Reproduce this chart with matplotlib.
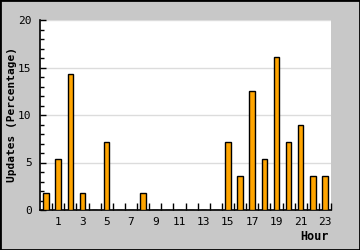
import numpy as np
import matplotlib
matplotlib.use('Agg')
import matplotlib.pyplot as plt
from matplotlib.patches import Rectangle

# Data: share of updates per hour of day
hours = list(range(24))
updates = [1.79, 5.36, 14.29, 1.79, 0, 7.14, 0, 0, 1.79, 0, 0, 0,
           0, 0, 0, 7.14, 3.57, 12.5, 5.36, 16.07, 7.14, 8.93, 3.57, 3.57]
xlabels = [str(h) for h in hours if h % 2 == 1]

BG = '#c8c8c8'
BAR = '#ffa500'

plt.rcParams['font.family'] = ['DejaVu Sans Mono']

fig = plt.figure(figsize=(3.6, 2.5), dpi=100, facecolor=BG)
fig.patches.append(Rectangle((0, 0), 1, 1, transform=fig.transFigure,
                             fill=False, edgecolor='black', linewidth=2))
ax = fig.add_axes([40/360, 40/250, 291/360, 190/250])
ax.set_facecolor('white')

ax.bar(hours, updates, width=0.45, color=BAR, edgecolor='black', linewidth=1, zorder=3)

ax.set_xlim(-0.5, 23.5)
ax.set_ylim(0, 20)

# y ticks
ax.set_yticks([0, 5, 10, 15, 20])
ax.set_yticks(np.arange(0, 21, 1), minor=True)
ax.yaxis.grid(True, which='major', color='#dcdcdc', linewidth=1, zorder=0)
ax.tick_params(axis='y', which='major', direction='in', length=4, width=1,
               labelsize=8, pad=6)
ax.tick_params(axis='y', which='minor', direction='in', length=3, width=1)

# x ticks: labels at odd hours, tick marks at category boundaries
ax.set_xticks([h for h in hours if h % 2 == 1])
ax.set_xticklabels(xlabels)
ax.set_xticks(np.arange(0.5, 24, 1), minor=True)
ax.tick_params(axis='x', which='major', length=0, labelsize=8, pad=5)
ax.tick_params(axis='x', which='minor', direction='in', length=5, width=1)

for s in ['top', 'right']:
    ax.spines[s].set_visible(False)
for s in ['left', 'bottom']:
    ax.spines[s].set_linewidth(1.2)

fig.text(12/360, 1 - 115/250, 'Updates (Percentage)', rotation=90, fontsize=8,
         fontweight='bold', ha='center', va='center')
fig.text(329/360, 1 - 236/250, 'Hour', fontsize=8.5, fontweight='bold',
         ha='right', va='center')

fig.savefig('out.png', dpi=100, facecolor=BG)
